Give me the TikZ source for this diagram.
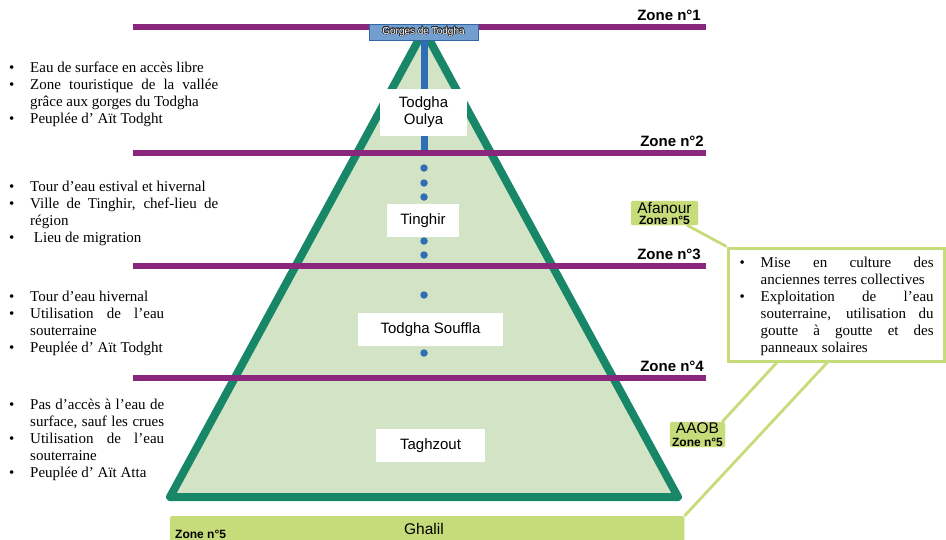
\documentclass[tikz,border=0pt]{standalone}
\usepackage{fontspec}
\setmainfont{Liberation Serif}
\setsansfont{Liberation Sans}
\usepackage{contour}
\usetikzlibrary{calc}
\contourlength{0.55pt}

\definecolor{zonepurple}{RGB}{139,38,125}
\definecolor{pyrgreen}{RGB}{24,135,104}
\definecolor{pyrfill}{RGB}{211,227,197}
\definecolor{riverblue}{RGB}{47,110,180}
\definecolor{gorgeblue}{RGB}{114,159,207}
\definecolor{gorgeedge}{RGB}{52,101,164}
\definecolor{zonefive}{RGB}{198,220,122}

% bullet list helpers
\newcommand\bul{\makebox[21pt][l]{•}}
\newcommand\ind{\hspace*{21pt}}
\newcommand\jus[2]{\makebox[#1][s]{#2}}

\tikzset{
  zoneline/.style={draw=zonepurple, line width=6pt},
  zonelabel/.style={font=\sffamily\bfseries\fontsize{15}{17}\selectfont, inner sep=0pt, anchor=base east},
  pyredge/.style={draw=pyrgreen, line width=8pt, line join=round},
  river/.style={draw=riverblue, line width=7pt},
  riverdot/.style={circle, fill=riverblue, minimum size=7.5pt, inner sep=0pt},
  townbox/.style={fill=white, inner sep=0pt, align=center, font=\sffamily\fontsize{15}{17}\selectfont},
  notes/.style={anchor=north west, inner sep=0pt, align=left, font=\fontsize{15}{17}\selectfont},
  tag/.style={fill=zonefive, draw=zonefive, rounded corners=2pt, inner sep=0pt, align=center},
  callout/.style={draw=zonefive, line width=2.8pt},
}

\begin{document}
\begin{tikzpicture}[x=1pt,y=-1pt]
\useasboundingbox (0,0) rectangle (946,539);

% pyramid
\coordinate (apex) at (424,30);
\coordinate (baseL) at (170,497);
\coordinate (baseR) at (678,497);
\fill[pyrfill] (apex) -- (baseL) -- (baseR) -- cycle;
\draw[pyredge] (apex) -- (baseL) -- (baseR) -- cycle;

% river from the gorges down to zone 2
\coordinate (riverTop) at (424,40);
\coordinate (riverEnd) at (424,153);
\draw[river] (riverTop) -- (riverEnd);
\foreach \y [count=\k] in {168,183,197,241,255,295,353}
  \node[riverdot] (dot\k) at (424,\y) {};

% zone boundaries
\foreach \i/\y in {1/27,2/153,3/266,4/378} {
  \coordinate (zoneL\i) at (133,\y);
  \coordinate (zoneR\i) at (706,\y);
  \draw[zoneline] (zoneL\i) -- (zoneR\i);
}
\node[zonelabel] (zlab1) at (701,20.5) {Zone n°1};
\node[zonelabel] (zlab2) at (704,146.5) {Zone n°2};
\node[zonelabel] (zlab3) at (701,259.5) {Zone n°3};
\node[zonelabel] (zlab4) at (704,371.5) {Zone n°4};

% towns
\node[townbox, minimum width=87pt, minimum height=47pt] (oulya) at (423.5,112.5) {Todgha\\Oulya};
\node[townbox, minimum width=72pt, minimum height=33pt] (tinghir) at (423,220.5) {Tinghir};
\node[townbox, minimum width=145pt, minimum height=33pt] (souffla) at (430.5,329.5) {Todgha Souffla};
\node[townbox, minimum width=109pt, minimum height=33pt] (taghzout) at (430.5,445.5) {Taghzout};

% gorges
\node[fill=gorgeblue, draw=gorgeedge, line width=0.8pt, minimum width=109pt, minimum height=16pt, inner sep=0pt,
      font=\sffamily\fontsize{10}{12}\selectfont] (gorges) at (423.5,32)
  {\contour{black!85}{\textcolor{white}{Gorges de Todgha}}};

% descriptions of each zone
\node[notes] (notes1) at (9,60.6) {%
  \strut\bul Eau de surface en accès libre\\
  \bul\jus{188pt}{Zone touristique de la vallée}\\
  \ind grâce aux gorges du Todgha\\
  \bul Peuplée d’ Aït Todght};
\node[notes] (notes2) at (9,179.6) {%
  \strut\bul Tour d’eau estival et hivernal\\
  \bul\jus{188pt}{Ville de Tinghir, chef-lieu de}\\
  \ind région\\
  \bul\ Lieu de migration};
\node[notes] (notes3) at (9,289.6) {%
  \strut\bul Tour d’eau hivernal\\
  \bul\jus{134pt}{Utilisation de l’eau}\\
  \ind souterraine\\
  \bul Peuplée d’ Aït Todght};
\node[notes] (notes4) at (9,397.6) {%
  \strut\bul\jus{134pt}{Pas d’accès à l’eau de}\\
  \ind\jus{134pt}{surface, sauf les crues}\\
  \bul\jus{134pt}{Utilisation de l’eau}\\
  \ind souterraine\\
  \bul Peuplée d’ Aït Atta};

% zone 5 information box
\node[draw=zonefive, line width=3pt, fill=white, minimum width=216pt, minimum height=113pt, inner sep=0pt] (info) at (836,304.5) {};
\node[notes] (notes5) at (739.5,255.6) {%
  \strut\bul\jus{173pt}{Mise en culture des}\\
  \ind anciennes terres collectives\\
  \bul\jus{173pt}{Exploitation de l’eau}\\
  \ind\jus{173pt}{souterraine, utilisation du}\\
  \ind\jus{173pt}{goutte à goutte et des}\\
  \ind panneaux solaires};

% zone 5 places
\node[tag, minimum width=67pt, minimum height=24pt] (afanour) at (664.5,213)
  {\sffamily\fontsize{15.5}{11}\selectfont Afanour\\[-1pt]\sffamily\bfseries\fontsize{12}{11}\selectfont Zone n°5};
\node[tag, minimum width=55pt, minimum height=25pt] (aaob) at (697.5,434.5)
  {\sffamily\fontsize{15.5}{12}\selectfont AAOB\\[1pt]\sffamily\bfseries\fontsize{12}{12}\selectfont Zone n°5};
\node[tag, anchor=north west, minimum width=514pt, minimum height=34pt] (ghalil) at (170,516) {};
\node[inner sep=0pt, font=\sffamily\fontsize{15.5}{17}\selectfont] (ghaliltxt) at (424,528.5) {Ghalil};
\node[inner sep=0pt, anchor=west, font=\sffamily\bfseries\fontsize{12}{14}\selectfont] (ghalilzone) at (175,534.5) {Zone n°5};

% callouts
\draw[callout] (afanour) -- (info.north west);
\draw[callout] ([xshift=-3pt]aaob.north east) -- ($(info.south west)!0.23!(info.south east)$);
\draw[callout] ($(info.south west)!0.46!(info.south east)$) -- (ghalil.north east);
\end{tikzpicture}
\end{document}
